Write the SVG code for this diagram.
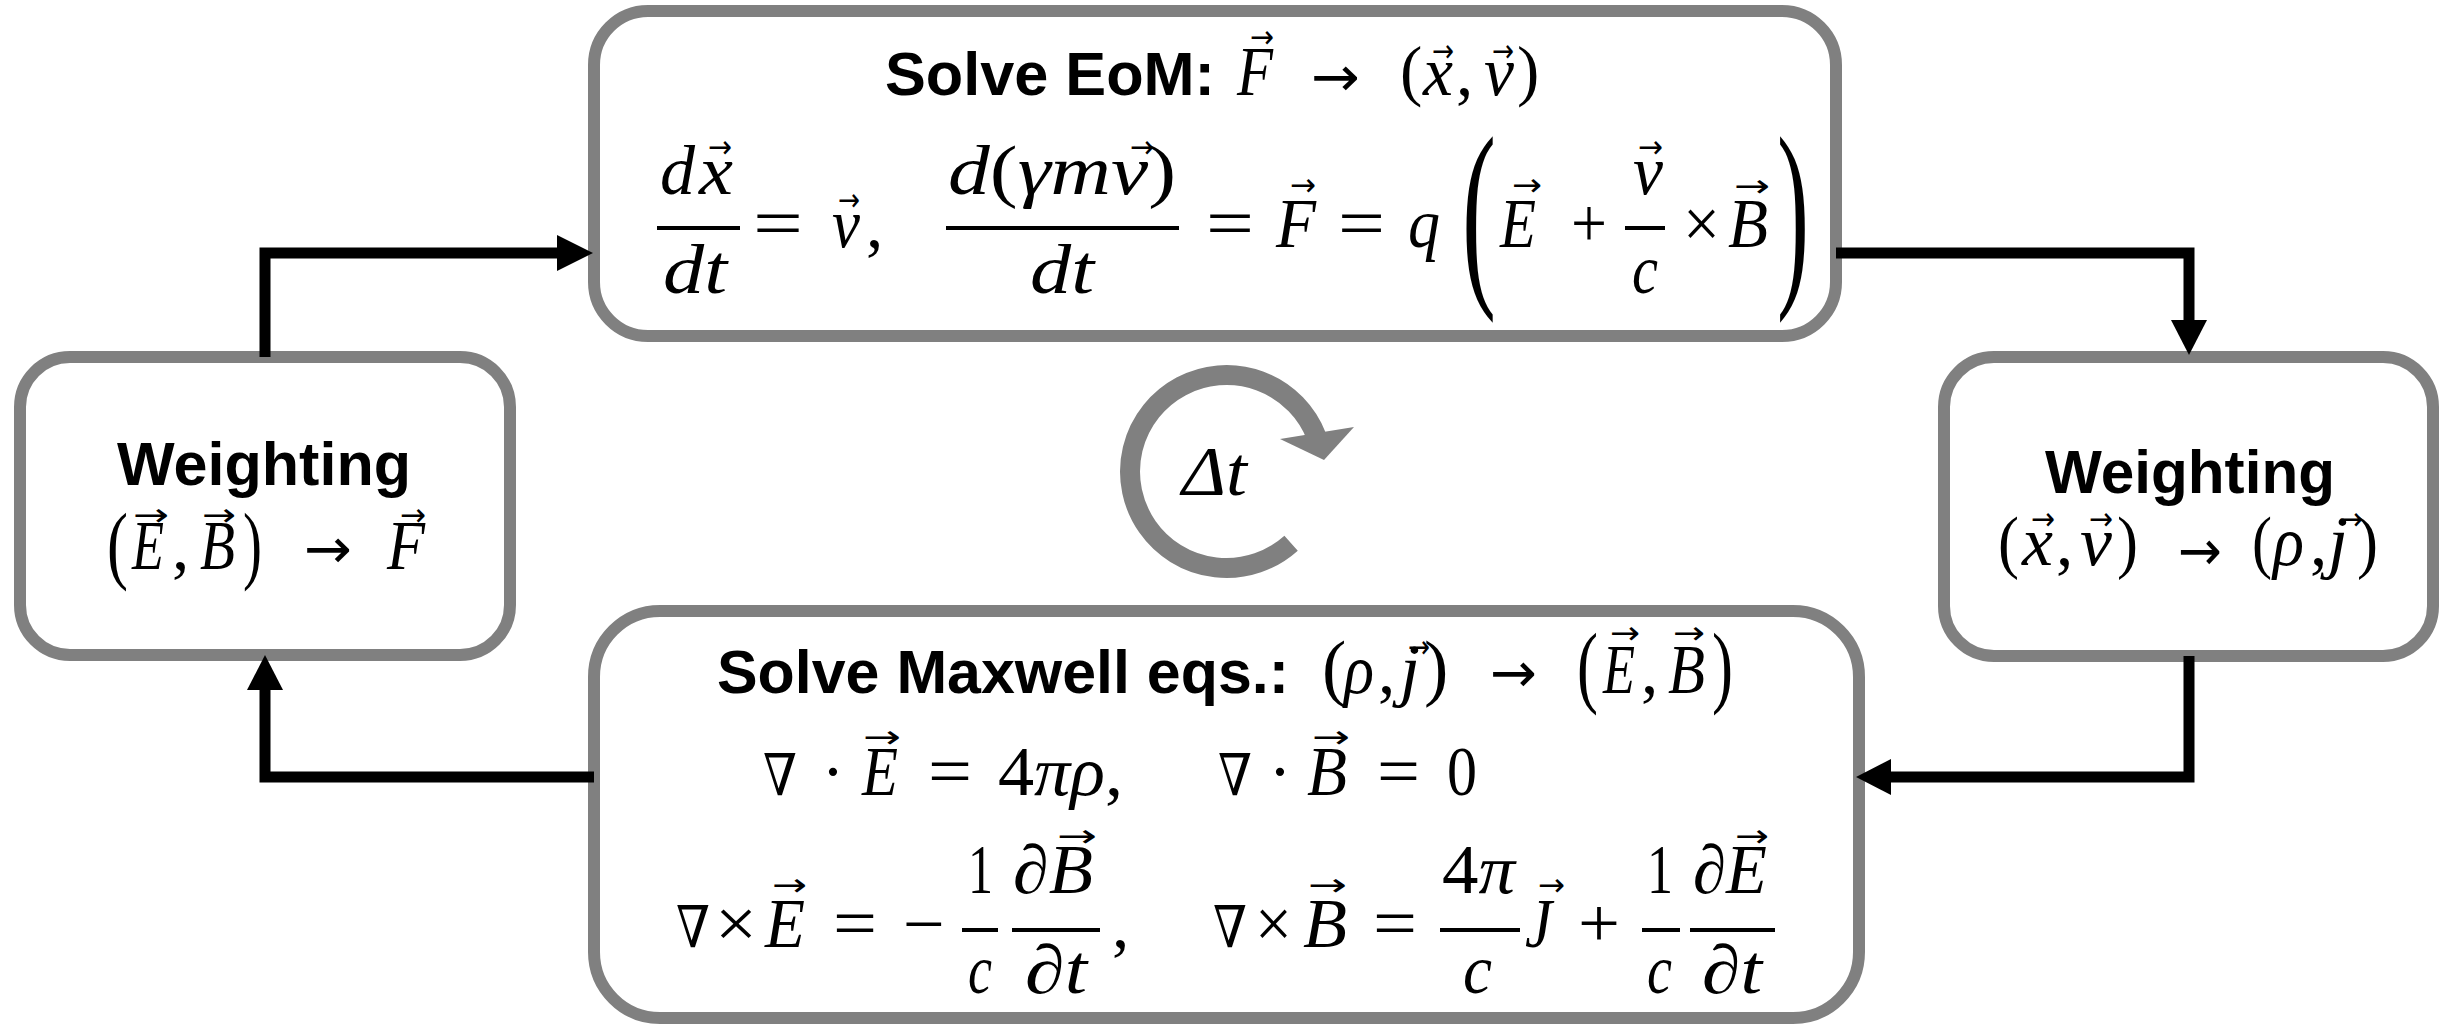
<svg xmlns="http://www.w3.org/2000/svg" width="2450" height="1024" viewBox="0 0 2450 1024">
<style>
.box{fill:#fff;stroke:#808080;stroke-width:12}
.conn{fill:none;stroke:#000;stroke-width:11}
.head{fill:#000}
.ttl{font-family:"Liberation Sans",Arial,sans-serif;font-weight:bold;font-size:61px;fill:#000}
.mi{font-family:"Liberation Serif","DejaVu Serif",serif;font-style:italic;font-size:69px;fill:#000}
.mo{font-family:"Liberation Serif","DejaVu Serif",serif;font-style:normal;font-size:69px;fill:#000}
.nab{font-family:"DejaVu Serif",serif;font-style:normal;font-size:58px;fill:#000}
.vec{font-family:"DejaVu Sans",sans-serif;font-style:normal;font-size:32px;fill:#000}
.arr{font-family:"DejaVu Sans",sans-serif;font-style:normal;font-size:56px;fill:#000}
.it{font-style:italic}
.up{font-style:normal}
.bar{fill:#000}
</style>
<rect width="2450" height="1024" fill="#fff"/>

<g id="node-eom">
<rect class="box" x="594" y="11" width="1242" height="325" rx="54"/>
<text class="ttl" x="885" y="95" textLength="330" lengthAdjust="spacingAndGlyphs">Solve EoM:</text>
<text class="mi" x="1237" y="95" textLength="36" lengthAdjust="spacingAndGlyphs">F</text>
<text class="vec" x="1250" y="48" textLength="24" lengthAdjust="spacingAndGlyphs">→</text>
<text class="arr" x="1311" y="96" textLength="49" lengthAdjust="spacingAndGlyphs">→</text>
<text class="mo" x="1400" y="93" style="font-size:67px">(</text>
<text class="mi" x="1423" y="95" textLength="30" lengthAdjust="spacingAndGlyphs">x</text>
<text class="vec" x="1432" y="62" textLength="22" lengthAdjust="spacingAndGlyphs">→</text>
<text class="mo" x="1456" y="95">,</text>
<text class="mi" x="1484" y="95" textLength="30" lengthAdjust="spacingAndGlyphs">v</text>
<text class="vec" x="1492" y="62" textLength="22" lengthAdjust="spacingAndGlyphs">→</text>
<text class="mo" x="1517" y="93" style="font-size:67px">)</text>

<text class="mi" x="660" y="194" textLength="35" lengthAdjust="spacingAndGlyphs">d</text>
<text class="mi" x="699" y="194" textLength="34" lengthAdjust="spacingAndGlyphs">x</text>
<text class="vec" x="708" y="158" textLength="24" lengthAdjust="spacingAndGlyphs">→</text>
<rect class="bar" x="657" y="226" width="83" height="4"/>
<text class="mi" x="663" y="293" textLength="64" lengthAdjust="spacingAndGlyphs">dt</text>
<text class="mo" x="753" y="247" textLength="50" lengthAdjust="spacingAndGlyphs">=</text>
<text class="mi" x="832" y="247" textLength="28" lengthAdjust="spacingAndGlyphs">v</text>
<text class="vec" x="838" y="211" textLength="22" lengthAdjust="spacingAndGlyphs">→</text>
<text class="mo" x="866" y="247">,</text>
<text class="mi" x="948" y="194" textLength="228" lengthAdjust="spacingAndGlyphs">d<tspan class="up">(</tspan>γmv<tspan class="up">)</tspan></text>
<text class="vec" x="1130" y="158" textLength="24" lengthAdjust="spacingAndGlyphs">→</text>
<rect class="bar" x="946" y="226" width="233" height="4"/>
<text class="mi" x="1030" y="293" textLength="64" lengthAdjust="spacingAndGlyphs">dt</text>
<text class="mo" x="1206" y="247" textLength="48" lengthAdjust="spacingAndGlyphs">=</text>
<text class="mi" x="1276" y="247" textLength="40" lengthAdjust="spacingAndGlyphs">F</text>
<text class="vec" x="1290" y="196" textLength="26" lengthAdjust="spacingAndGlyphs">→</text>
<text class="mo" x="1338" y="247" textLength="47" lengthAdjust="spacingAndGlyphs">=</text>
<text class="mi" x="1408" y="247" textLength="32" lengthAdjust="spacingAndGlyphs">q</text>
<text class="mo" x="1462" y="279" style="font-size:206px" textLength="34" lengthAdjust="spacingAndGlyphs">(</text>
<text class="mi" x="1500" y="247" textLength="36" lengthAdjust="spacingAndGlyphs">E</text>
<text class="vec" x="1512" y="196" textLength="30" lengthAdjust="spacingAndGlyphs">→</text>
<text class="mo" x="1571" y="247" textLength="36" lengthAdjust="spacingAndGlyphs">+</text>
<text class="mi" x="1633" y="194" textLength="30" lengthAdjust="spacingAndGlyphs">v</text>
<text class="vec" x="1638" y="158" textLength="25" lengthAdjust="spacingAndGlyphs">→</text>
<rect class="bar" x="1625" y="226" width="40" height="4"/>
<text class="mi" x="1632" y="293" textLength="26" lengthAdjust="spacingAndGlyphs">c</text>
<text class="mo" x="1683" y="247" textLength="37" lengthAdjust="spacingAndGlyphs">×</text>
<text class="mi" x="1728" y="247" textLength="40" lengthAdjust="spacingAndGlyphs">B</text>
<text class="vec" x="1734" y="197" textLength="36" lengthAdjust="spacingAndGlyphs">→</text>
<text class="mo" x="1777" y="279" style="font-size:206px" textLength="32" lengthAdjust="spacingAndGlyphs">)</text>
</g>

<g id="node-weighting-field">
<rect class="box" x="20" y="357" width="490" height="298" rx="50"/>
<text class="ttl" x="117" y="485" textLength="294" lengthAdjust="spacingAndGlyphs">Weighting</text>
<text class="mo" x="107" y="573" style="font-size:87px" textLength="21" lengthAdjust="spacingAndGlyphs">(</text>
<text class="mi" x="132" y="569" textLength="32" lengthAdjust="spacingAndGlyphs">E</text>
<text class="vec" x="133" y="526" textLength="36" lengthAdjust="spacingAndGlyphs">→</text>
<text class="mo" x="172" y="569">,</text>
<text class="mi" x="200" y="569" textLength="35" lengthAdjust="spacingAndGlyphs">B</text>
<text class="vec" x="202" y="526" textLength="34" lengthAdjust="spacingAndGlyphs">→</text>
<text class="mo" x="243" y="573" style="font-size:87px" textLength="19" lengthAdjust="spacingAndGlyphs">)</text>
<text class="arr" x="304" y="568" textLength="48" lengthAdjust="spacingAndGlyphs">→</text>
<text class="mi" x="387" y="569" textLength="38" lengthAdjust="spacingAndGlyphs">F</text>
<text class="vec" x="400" y="526" textLength="26" lengthAdjust="spacingAndGlyphs">→</text>
</g>

<g id="node-weighting-particle">
<rect class="box" x="1944" y="357" width="489" height="299" rx="50"/>
<text class="ttl" x="2045" y="493" textLength="290" lengthAdjust="spacingAndGlyphs">Weighting</text>
<text class="mo" x="1998" y="565" style="font-size:70px" textLength="21" lengthAdjust="spacingAndGlyphs">(</text>
<text class="mi" x="2022" y="565" textLength="31" lengthAdjust="spacingAndGlyphs">x</text>
<text class="vec" x="2031" y="530" textLength="24" lengthAdjust="spacingAndGlyphs">→</text>
<text class="mo" x="2056" y="565">,</text>
<text class="mi" x="2080" y="565" textLength="32" lengthAdjust="spacingAndGlyphs">v</text>
<text class="vec" x="2089" y="530" textLength="24" lengthAdjust="spacingAndGlyphs">→</text>
<text class="mo" x="2117" y="565" style="font-size:70px" textLength="21" lengthAdjust="spacingAndGlyphs">)</text>
<text class="arr" x="2178" y="570" textLength="44" lengthAdjust="spacingAndGlyphs">→</text>
<text class="mo" x="2252" y="565" style="font-size:70px" textLength="20" lengthAdjust="spacingAndGlyphs">(</text>
<text class="mi" x="2273" y="565" textLength="31" lengthAdjust="spacingAndGlyphs">ρ</text>
<text class="mo" x="2310" y="565">,</text>
<text class="mi" x="2328" y="565" textLength="20" lengthAdjust="spacingAndGlyphs">j</text>
<text class="vec" x="2339" y="530" textLength="24" lengthAdjust="spacingAndGlyphs">→</text>
<text class="mo" x="2357" y="565" style="font-size:70px" textLength="21" lengthAdjust="spacingAndGlyphs">)</text>
</g>

<g id="node-maxwell">
<rect class="box" x="594" y="611" width="1265" height="407" rx="66"/>
<text class="ttl" x="717" y="693" textLength="572" lengthAdjust="spacingAndGlyphs">Solve Maxwell eqs.:</text>
<text class="mo" x="1322" y="692" style="font-size:73px">(</text>
<text class="mi" x="1344" y="693" textLength="30" lengthAdjust="spacingAndGlyphs">ρ</text>
<text class="mo" x="1378" y="693">,</text>
<text class="mi" x="1400" y="693" textLength="20" lengthAdjust="spacingAndGlyphs">j</text>
<text class="vec" x="1408" y="658" textLength="22" lengthAdjust="spacingAndGlyphs">→</text>
<text class="mo" x="1424" y="692" style="font-size:73px">)</text>
<text class="arr" x="1490" y="692" textLength="47" lengthAdjust="spacingAndGlyphs">→</text>
<text class="mo" x="1577" y="696" style="font-size:90px" textLength="21" lengthAdjust="spacingAndGlyphs">(</text>
<text class="mi" x="1603" y="693" textLength="32" lengthAdjust="spacingAndGlyphs">E</text>
<text class="vec" x="1610" y="644" textLength="30" lengthAdjust="spacingAndGlyphs">→</text>
<text class="mo" x="1641" y="693">,</text>
<text class="mi" x="1668" y="693" textLength="37" lengthAdjust="spacingAndGlyphs">B</text>
<text class="vec" x="1673" y="644" textLength="32" lengthAdjust="spacingAndGlyphs">→</text>
<text class="mo" x="1712" y="696" style="font-size:90px" textLength="21" lengthAdjust="spacingAndGlyphs">)</text>

<text class="nab" x="763" y="795" textLength="34" lengthAdjust="spacingAndGlyphs">∇</text>
<text class="mo" x="833" y="795" text-anchor="middle">·</text>
<text class="mi" x="862" y="795" textLength="36" lengthAdjust="spacingAndGlyphs">E</text>
<text class="vec" x="863" y="748" textLength="38" lengthAdjust="spacingAndGlyphs">→</text>
<text class="mo" x="928" y="795" textLength="44" lengthAdjust="spacingAndGlyphs">=</text>
<text class="mo" x="998" y="795" textLength="125" lengthAdjust="spacingAndGlyphs">4<tspan class="it">πρ</tspan>,</text>
<text class="nab" x="1218" y="795" textLength="34" lengthAdjust="spacingAndGlyphs">∇</text>
<text class="mo" x="1280" y="795" text-anchor="middle">·</text>
<text class="mi" x="1307" y="795" textLength="40" lengthAdjust="spacingAndGlyphs">B</text>
<text class="vec" x="1312" y="748" textLength="38" lengthAdjust="spacingAndGlyphs">→</text>
<text class="mo" x="1377" y="795" textLength="43" lengthAdjust="spacingAndGlyphs">=</text>
<text class="mo" x="1447" y="795" textLength="30" lengthAdjust="spacingAndGlyphs">0</text>

<text class="nab" x="676" y="947" textLength="34" lengthAdjust="spacingAndGlyphs">∇</text>
<text class="mo" x="715" y="947" textLength="42" lengthAdjust="spacingAndGlyphs">×</text>
<text class="mi" x="765" y="947" textLength="40" lengthAdjust="spacingAndGlyphs">E</text>
<text class="vec" x="772" y="896" textLength="35" lengthAdjust="spacingAndGlyphs">→</text>
<text class="mo" x="833" y="947" textLength="44" lengthAdjust="spacingAndGlyphs">=</text>
<text class="mo" x="903" y="947" textLength="42" lengthAdjust="spacingAndGlyphs">−</text>
<text class="mo" x="968" y="893" textLength="25" lengthAdjust="spacingAndGlyphs">1</text>
<rect class="bar" x="962" y="928" width="36" height="4"/>
<text class="mi" x="968" y="993" textLength="24" lengthAdjust="spacingAndGlyphs">c</text>
<text class="mi" x="1013" y="893" textLength="80" lengthAdjust="spacingAndGlyphs">∂B</text>
<text class="vec" x="1057" y="847" textLength="40" lengthAdjust="spacingAndGlyphs">→</text>
<rect class="bar" x="1012" y="928" width="88" height="4"/>
<text class="mi" x="1025" y="993" textLength="62" lengthAdjust="spacingAndGlyphs">∂t</text>
<text class="mo" x="1112" y="947">,</text>
<text class="nab" x="1213" y="947" textLength="34" lengthAdjust="spacingAndGlyphs">∇</text>
<text class="mo" x="1255" y="947" textLength="37" lengthAdjust="spacingAndGlyphs">×</text>
<text class="mi" x="1303" y="947" textLength="44" lengthAdjust="spacingAndGlyphs">B</text>
<text class="vec" x="1308" y="896" textLength="39" lengthAdjust="spacingAndGlyphs">→</text>
<text class="mo" x="1373" y="947" textLength="44" lengthAdjust="spacingAndGlyphs">=</text>
<text class="mo" x="1442" y="893" textLength="73" lengthAdjust="spacingAndGlyphs">4<tspan class="it">π</tspan></text>
<rect class="bar" x="1440" y="928" width="80" height="4"/>
<text class="mi" x="1463" y="993" textLength="29" lengthAdjust="spacingAndGlyphs">c</text>
<text class="mi" x="1525" y="947" textLength="27" lengthAdjust="spacingAndGlyphs">J</text>
<text class="vec" x="1538" y="896" textLength="27" lengthAdjust="spacingAndGlyphs">→</text>
<text class="mo" x="1578" y="947" textLength="42" lengthAdjust="spacingAndGlyphs">+</text>
<text class="mo" x="1647" y="893" textLength="26" lengthAdjust="spacingAndGlyphs">1</text>
<rect class="bar" x="1642" y="928" width="38" height="4"/>
<text class="mi" x="1647" y="993" textLength="25" lengthAdjust="spacingAndGlyphs">c</text>
<text class="mi" x="1693" y="893" textLength="74" lengthAdjust="spacingAndGlyphs">∂E</text>
<text class="vec" x="1735" y="847" textLength="34" lengthAdjust="spacingAndGlyphs">→</text>
<rect class="bar" x="1690" y="928" width="85" height="4"/>
<text class="mi" x="1702" y="993" textLength="60" lengthAdjust="spacingAndGlyphs">∂t</text>
</g>

<g id="cycle">
<path d="M1291.1 543.2 A96.5 96.5 0 1 1 1316.6 436.9" fill="none" stroke="#808080" stroke-width="20"/>
<polygon points="1280,439 1354,427 1324,460" fill="#808080"/>
<text class="mi" x="1182" y="495" textLength="65" lengthAdjust="spacingAndGlyphs">Δt</text>
</g>

<g id="connectors">
<path class="conn" d="M265 357 V253 H558"/>
<polygon class="head" points="557,235 593,253 557,271"/>
<path class="conn" d="M1836 253 H2189 V320"/>
<polygon class="head" points="2171,320 2207,320 2189,355"/>
<path class="conn" d="M2189 656 V777 H1891"/>
<polygon class="head" points="1891,759 1891,795 1856,777"/>
<path class="conn" d="M594 777 H265 V690"/>
<polygon class="head" points="247,690 283,690 265,655"/>
</g>
</svg>
